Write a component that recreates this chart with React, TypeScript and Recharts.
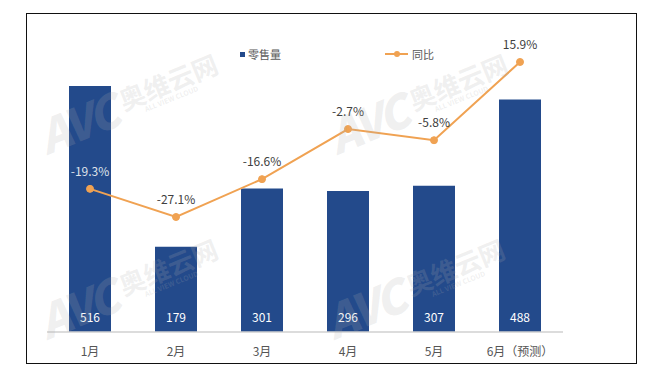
import React from 'react';
import { ComposedChart, Bar, Line, XAxis, YAxis, LabelList } from 'recharts';

const months = ['1月', '2月', '3月', '4月', '5月', '6月（预测）'];
const sales = [516, 179, 301, 296, 307, 488];
const yoy = [-19.3, -27.1, -16.6, -2.7, -5.8, 15.9];

const data = months.map((m, i) => ({ month: m, sales: sales[i], yoy: yoy[i] }));

const BAR_COLOR = '#234a8b';
const LINE_COLOR = '#f0a252';
const FONT = "'Noto Sans CJK SC', 'Noto Sans', sans-serif";

const BarValueLabel = (props: any) => {
  const { x, y, width, height, value } = props;
  return (
    <text x={x + width / 2} y={y + height - 10} textAnchor="middle" fill="#ffffff" fontSize={12} fontFamily={FONT}>
      {value}
    </text>
  );
};

const LineValueLabel = (props: any) => {
  const { x, y, value, index } = props;
  return (
    <text x={x} y={y - 13} textAnchor="middle" fill={index === 0 ? '#dfe3ea' : '#404040'} fontSize={12} fontFamily={FONT}>
      {`${value}%`}
    </text>
  );
};

const MonthTick = (props: any) => {
  const { x, y, payload } = props;
  return (
    <text x={x} y={y + 22} textAnchor="middle" fill="#555555" fontSize={12} fontFamily={FONT}>
      {payload.value}
    </text>
  );
};

const Watermark = ({ left, top }: { left: number; top: number }) => (
  <div
    style={{
      position: 'absolute',
      left,
      top,
      transform: 'rotate(-22deg)',
      transformOrigin: 'left bottom',
      color: 'rgba(175,175,175,0.2)',
      fontFamily: FONT,
      whiteSpace: 'nowrap',
      pointerEvents: 'none',
      display: 'flex',
      alignItems: 'flex-end',
    }}
  >
    <span style={{ fontSize: 46, fontWeight: 900, fontStyle: 'italic', lineHeight: 1, letterSpacing: -3 }}>AVC</span>
    <span style={{ display: 'flex', flexDirection: 'column', marginLeft: 8, marginBottom: 5 }}>
      <span style={{ fontSize: 26, fontWeight: 700, lineHeight: 1 }}>奥维云网</span>
      <span style={{ fontSize: 7, fontWeight: 700, lineHeight: 1.2, marginLeft: 20 }}>ALL VIEW CLOUD</span>
    </span>
  </div>
);

export default function App() {
  return (
    <div style={{ position: 'absolute', left: 0, top: 0, width: 652, height: 385, background: '#fff', fontFamily: FONT }}>
      <div
        style={{
          position: 'absolute',
          left: 26,
          top: 13,
          width: 611,
          height: 351,
          border: '1.5px solid #111',
          boxSizing: 'border-box',
        }}
      />
      <ComposedChart
        width={652}
        height={385}
        data={data}
        margin={{ top: 46, right: 89, bottom: 23, left: 47 }}
        style={{ position: 'absolute', left: 0, top: 0 }}
      >
        <XAxis
          dataKey="month"
          height={30}
          tickLine={false}
          tickSize={0}
          axisLine={{ stroke: '#d0d0d0', strokeWidth: 1.5 }}
          tick={<MonthTick />}
          interval={0}
        />
        <YAxis yAxisId="left" hide domain={[0, 600]} />
        <YAxis yAxisId="right" hide orientation="right" domain={[-59, 20.33]} />
        <Bar yAxisId="left" dataKey="sales" fill={BAR_COLOR} barSize={42} isAnimationActive={false}>
          <LabelList dataKey="sales" content={<BarValueLabel />} />
        </Bar>
        <Line
          yAxisId="right"
          dataKey="yoy"
          type="linear"
          stroke={LINE_COLOR}
          strokeWidth={2}
          dot={{ r: 3.5, fill: LINE_COLOR, stroke: LINE_COLOR, strokeWidth: 1 }}
          isAnimationActive={false}
        >
          <LabelList dataKey="yoy" content={<LineValueLabel />} />
        </Line>
      </ComposedChart>
      <div style={{ position: 'absolute', left: 240, top: 46, display: 'flex', alignItems: 'center', fontSize: 11, color: '#595959' }}>
        <span style={{ width: 5, height: 5, background: BAR_COLOR, display: 'inline-block', marginRight: 3 }} />
        <span>零售量</span>
      </div>
      <div style={{ position: 'absolute', left: 385, top: 46, display: 'flex', alignItems: 'center', fontSize: 11, color: '#595959' }}>
        <svg width={23} height={8} style={{ marginRight: 4 }}>
          <line x1={0} y1={4} x2={23} y2={4} stroke={LINE_COLOR} strokeWidth={2} />
          <circle cx={12} cy={4} r={3} fill={LINE_COLOR} />
        </svg>
        <span>同比</span>
      </div>
      <Watermark left={48} top={112} />
      <Watermark left={338} top={112} />
      <Watermark left={48} top={297} />
      <Watermark left={335} top={297} />
    </div>
  );
}
